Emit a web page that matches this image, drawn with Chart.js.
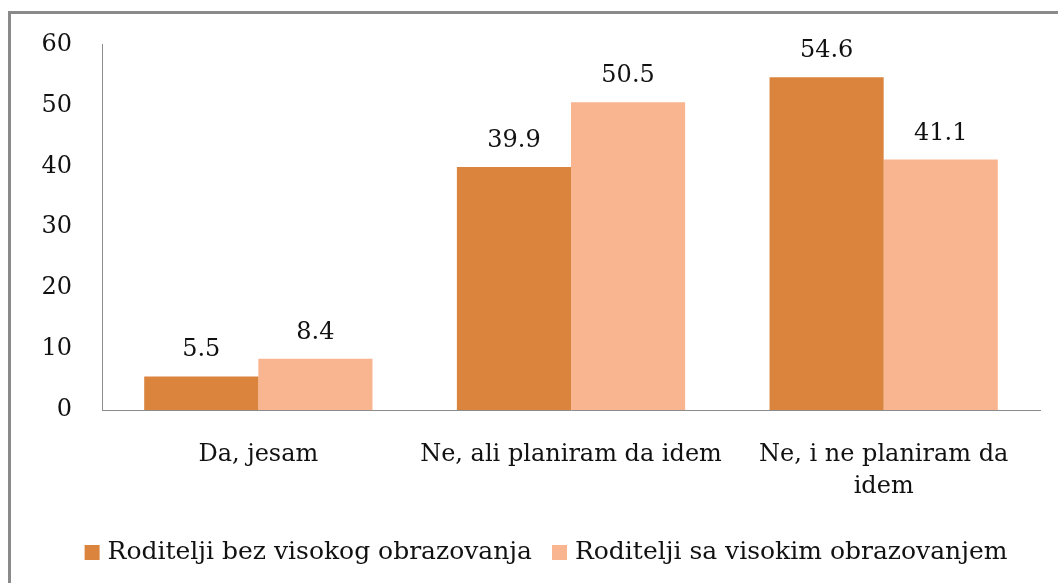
<!DOCTYPE html>
<html>
<head>
<meta charset="utf-8">
<script src="https://cdn.jsdelivr.net/npm/chart.js@4"></script>
<style>
  html, body { margin: 0; padding: 0; background: #ffffff; }
  #wrap { position: relative; width: 1058px; height: 583px; }
</style>
</head>
<body>
<div id="wrap"><canvas id="c" width="1058" height="583"></canvas></div>
<script>
const categories = ["Da, jesam", "Ne, ali planiram da idem", ["Ne, i ne planiram da", "idem"]];
const seriesNames = ["Roditelji bez visokog obrazovanja", "Roditelji sa visokim obrazovanjem"];
const bezVisokog = [5.5, 39.9, 54.6];
const saVisokim = [8.4, 50.5, 41.1];
const yTicks = [0, 10, 20, 30, 40, 50, 60];
const seriesColors = ['#db843d', '#f9b590'];

const FONT = "'DejaVu Serif', serif";

const borderPlugin = {
  id: 'outerBorder',
  afterDraw(chart) {
    const ctx = chart.ctx;
    ctx.save();
    ctx.strokeStyle = '#8a8a8a';
    ctx.lineWidth = 3;
    ctx.strokeRect(9.5, 12.5, 1200, 800);
    ctx.restore();
  }
};

const valueLabels = {
  id: 'valueLabels',
  afterDatasetsDraw(chart) {
    const ctx = chart.ctx;
    ctx.save();
    ctx.font = "24px " + FONT;
    ctx.fillStyle = '#111';
    ctx.textAlign = 'center';
    ctx.textBaseline = 'alphabetic';
    chart.data.datasets.forEach((ds, di) => {
      const meta = chart.getDatasetMeta(di);
      meta.data.forEach((bar, i) => {
        ctx.fillText(ds.data[i].toFixed(1), bar.x, bar.y - 20);
      });
    });
    ctx.restore();
  }
};

// Legend drawn from the datasets, centred like the reference
const customLegend = {
  id: 'customLegend',
  afterDraw(chart) {
    const ctx = chart.ctx;
    ctx.save();
    ctx.font = "25px " + FONT;
    ctx.textBaseline = 'alphabetic';
    ctx.textAlign = 'left';
    const box = 15, gapText = 8, gapItem = 20;
    const items = chart.data.datasets.map(ds => ({ text: ds.label, color: ds.backgroundColor, w: ctx.measureText(ds.label).width }));
    let total = 0;
    items.forEach((it, i) => { total += box + gapText + it.w + (i < items.length - 1 ? gapItem : 0); });
    let x = 546 - total / 2;
    const baseline = 559;
    items.forEach(it => {
      ctx.fillStyle = it.color;
      ctx.fillRect(x, baseline - 14, box, box);
      ctx.fillStyle = '#111';
      ctx.fillText(it.text, x + box + gapText, baseline);
      x += box + gapText + it.w + gapItem;
    });
    ctx.restore();
  }
};

new Chart(document.getElementById('c'), {
  type: 'bar',
  data: {
    labels: categories,
    datasets: [
      { label: seriesNames[0], data: bezVisokog, backgroundColor: seriesColors[0] },
      { label: seriesNames[1], data: saVisokim, backgroundColor: seriesColors[1] }
    ]
  },
  options: {
    responsive: false,
    animation: false,
    devicePixelRatio: 1,
    layout: { padding: { left: 0, right: 18, top: 42, bottom: 57 } },
    datasets: { bar: { categoryPercentage: 0.73, barPercentage: 1.0 } },
    scales: {
      x: {
        grid: { display: false, drawTicks: false },
        border: { display: true, color: '#8c8c8c', width: 1 },
        ticks: { color: '#111', font: { family: FONT, size: 24, lineHeight: 1.33 }, padding: 29, maxRotation: 0, autoSkip: false },
        afterFit(scale) { scale.height = 116; }
      },
      y: {
        min: 0, max: 60,
        grid: { display: false, drawTicks: false },
        border: { display: true, color: '#8c8c8c', width: 1 },
        afterBuildTicks(scale) { scale.ticks = yTicks.map(v => ({ value: v })); },
        ticks: { color: '#111', font: { family: FONT, size: 24 }, padding: 30 },
        afterFit(scale) { scale.width = 102; }
      }
    },
    plugins: {
      legend: { display: false },
      tooltip: { enabled: false }
    }
  },
  plugins: [borderPlugin, valueLabels, customLegend]
});
</script>
</body>
</html>
